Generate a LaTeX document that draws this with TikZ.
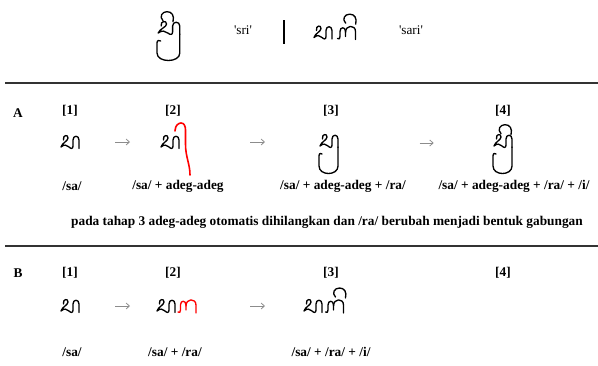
\documentclass[tikz,border=0pt]{standalone}
\usepackage{fontspec}
\setmainfont{Liberation Serif}
\usetikzlibrary{arrows.meta,positioning}

\tikzset{
  glyph/.style={line width=1pt, line cap=round, line join=round},
  pics/sa/.style={code={
    \draw[glyph] (-6.5,-2) .. controls (-7.5,-7) and (-2,-8) .. (-2,-4)
      .. controls (-2,-1) and (-8,1) .. (-9,5)
      .. controls (-6,2) and (-3,3) .. (-1,5)
      .. controls (1,7) and (3,7) .. (3,4) -- (3,-2)
      .. controls (3,-7) and (9,-7) .. (9,-2) -- (9,6.5);
  }},
  pics/ra/.style={code={
    \draw[glyph] (-9.5,6) .. controls (-8,7.5) and (-7,6) .. (-7,4) -- (-7,-1)
      .. controls (-7,-6) and (-1.5,-6) .. (-1.5,-1) -- (-1.5,4);
    \draw[glyph] (-1.5,0) .. controls (-1.5,-8) and (8.5,-8) .. (8.5,-1) -- (8.5,7);
  }},
  pics/wulu/.style={code={
    \draw[glyph] (-4,4) .. controls (-8,0) and (-5,-5) .. (0,-5)
      .. controls (5,-5) and (7.5,-1) .. (6,5);
  }},
  pics/cakra/.style={code={
    \draw[glyph] (9,6) -- (9,25) .. controls (9,35) and (-10,35) .. (-10,25)
      -- (-10,15) .. controls (-10,12) and (-8,12) .. (-7,13);
  }},
  pics/adeg/.style={code={
    \draw[glyph, red, line width=1.2pt] (5,-11) .. controls (5,-17) and (9,-19) .. (11,-19)
      .. controls (14,-19) and (15.5,-16) .. (15.5,-12) -- (15.5,2)
      .. controls (15.5,15) and (20,22) .. (20,33);
  }}
}

\begin{document}
\begin{tikzpicture}[x=0.75pt, y=-0.75pt,
    txt/.style={font=\fontsize{9.9}{12}\selectfont, inner sep=0pt},
    lbl/.style={txt, font=\fontsize{10}{12}\selectfont\bfseries},
    stepno/.style={lbl},
    rule/.style={draw=black!80, line width=0.8pt},
    arr/.style={draw=black!45, line width=0.6pt, -{Straight Barb[length=2.5pt,width=4.5pt]}}
  ]
  \useasboundingbox (0,0) rectangle (598,365);

  % title: sri | sari
  \coordinate (sri) at (169,28);
  \pic[xscale=1.2] at (sri) {sa};
  \pic[xscale=1.2] at (sri) {cakra};
  \pic at ([xshift=-1.5pt, yshift=8.5pt]sri) {wulu};
  \node[txt] (srit) at (243,30) {\textquotesingle sri\textquotesingle};
  \node[fill, minimum width=1.4pt, minimum height=18pt, inner sep=0pt] (bar) at (284,32) {};
  \coordinate (sari) at (323,32.5);
  \pic at (sari) {sa};
  \pic at ([xshift=18pt]sari) {ra};
  \pic at ([xshift=20pt, yshift=10pt]sari) {wulu};
  \node[txt] (sarit) at (411,30) {\textquotesingle sari\textquotesingle};

  \draw[rule] (5,83) -- (598,83);
  \draw[rule] (5,246) -- (598,246);

  % step headers
  \node[lbl] (A) at (18,113) {A};
  \node[lbl] (B) at (18,273) {B};
  \foreach \i/\x in {1/70,2/173,3/331,4/503} {
    \node[stepno] (hA\i) at (\x,111) {[\i]};
    \node[stepno] (hB\i) at (\x,273) {[\i]};
  }

  % row A
  \coordinate (gA1) at (70,142);
  \coordinate (gA2) at (170,142);
  \coordinate (gA3) at (329,141);
  \coordinate (gA4) at (503,141);
  \pic at (gA1) {sa};
  \pic at (gA2) {sa};
  \pic at (gA2) {adeg};
  \pic at (gA3) {sa};
  \pic at (gA3) {cakra};
  \pic at (gA4) {sa};
  \pic at (gA4) {cakra};
  \pic at ([xshift=1.5pt, yshift=8.5pt]gA4) {wulu};
  \draw[arr, shorten <=33.75pt, shorten >=30pt] (gA1) -- (gA2);
  \draw[arr, shorten <=60pt, shorten >=48pt] (gA2) -- ([yshift=-0.75pt]gA3);
  \draw[arr, shorten <=68pt, shorten >=52pt] ([yshift=-1.5pt]gA3) -- ([yshift=-1.5pt]gA4);

  \node[lbl] (tA1) at (72,186) {/sa/};
  \node[lbl] (tA2) at (178,186) {/sa/ + adeg-adeg};
  \node[lbl] (tA3) at (343,186) {/sa/ + adeg-adeg + /ra/};
  \node[lbl] (tA4) at (514,186) {/sa/ + adeg-adeg + /ra/ + /i/};
  \node[lbl] (note) at (327,222) {pada tahap 3 adeg-adeg otomatis dihilangkan dan /ra/ berubah menjadi bentuk gabungan};

  % row B
  \coordinate (gB1) at (70,306);
  \coordinate (gB2) at (176,306);
  \coordinate (gB3) at (324,306);
  \pic at (gB1) {sa};
  \pic at ([xshift=-7.5pt]gB2) {sa};
  \pic[red] at ([xshift=8.6pt]gB2) {ra};
  \pic at ([xshift=-8.25pt]gB3) {sa};
  \pic at ([xshift=8.25pt]gB3) {ra};
  \pic at ([xshift=11.6pt, yshift=9.75pt]gB3) {wulu};
  \draw[arr, shorten <=33.75pt, shorten >=34.5pt] (gB1) -- (gB2);
  \draw[arr, shorten <=55.5pt, shorten >=44.25pt] (gB2) -- (gB3);

  \node[lbl] (tB1) at (72,352) {/sa/};
  \node[lbl] (tB2) at (175,352) {/sa/ + /ra/};
  \node[lbl] (tB3) at (331,352) {/sa/ + /ra/ + /i/};
\end{tikzpicture}
\end{document}
